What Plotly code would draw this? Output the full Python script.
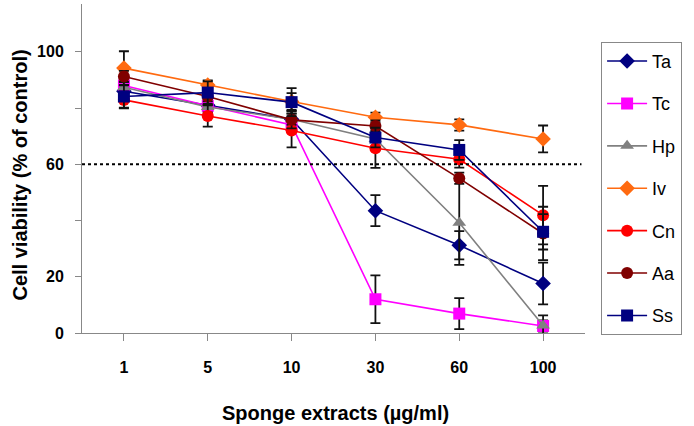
import plotly.graph_objects as go

categories = ['1', '5', '10', '30', '60', '100']

series_names = ['Ta', 'Tc', 'Hp', 'Iv', 'Cn', 'Aa', 'Ss']
Ta = [86.0, 81.0, 76.0, 43.5, 31.2, 17.6]
Tc = [88.0, 80.8, 74.0, 12.0, 6.9, 2.5]
Hp = [87.4, 80.4, 76.0, 69.0, 39.2, 2.7]
Iv = [94.2, 88.2, 82.3, 76.7, 74.0, 69.0]
Cn = [82.9, 77.2, 72.0, 65.7, 61.8, 41.9]
Aa = [91.2, 84.1, 75.8, 73.6, 55.0, 35.4]
Ss = [84.1, 85.5, 82.1, 69.5, 65.1, 36.0]

Ta_err = [2, 2, 3, 5.5, 5, 7.4]
Tc_err = [2, 2, 2, 8.5, 5.5, 2]
Hp_err = [2, 2, 2, 3, 15, 3.6]
Iv_err = [6, 1.6, 3, 1.7, 2, 4.8]
Cn_err = [3, 3.8, 6, 7, 3, 10.4]
Aa_err = [2, 3, 3, 2, 2, 9.5]
Ss_err = [4, 4, 5, 3.5, 3.5, 6.3]

values = [Ta, Tc, Hp, Iv, Cn, Aa, Ss]
errors = [Ta_err, Tc_err, Hp_err, Iv_err, Cn_err, Aa_err, Ss_err]
colors = ['#000080', '#FF00FF', '#808080', '#FF6A10', '#FF0000', '#800000', '#000080']
symbols = ['diamond', 'square', 'triangle-up', 'diamond', 'circle', 'circle', 'square']

FONT = 'Liberation Sans, Arial, sans-serif'

fig = go.Figure()
for i, name in enumerate(series_names):
    fig.add_trace(go.Scatter(
        x=categories, y=values[i], name=name, mode='lines+markers',
        legendgroup=name,
        line=dict(color=colors[i], width=1.6),
        marker=dict(symbol=symbols[i], size=12, color=colors[i]),
        error_y=dict(type='data', array=errors[i], visible=True,
                     color='#111111', thickness=1.8, width=5),
    ))

fig.add_shape(type='line', xref='paper', yref='y', x0=0, x1=0.993, y0=60, y1=60,
              line=dict(color='black', width=2, dash='dot'))

fig.add_annotation(text='<b>Sponge extracts (µg/ml)</b>', xref='paper', yref='paper',
                   x=0.504, y=-0.243, xanchor='center', yanchor='middle',
                   showarrow=False, font=dict(size=20, family=FONT))
fig.add_annotation(text='<b>Cell viability (% of control)</b>', xref='paper', yref='paper',
                   x=-0.123, y=0.479, xanchor='center', yanchor='middle', textangle=-90,
                   showarrow=False, font=dict(size=20, family=FONT))

fig.update_layout(
    width=694, height=426,
    margin=dict(l=82, r=109, t=4, b=93),
    paper_bgcolor='white', plot_bgcolor='white',
    font=dict(family=FONT, color='black'),
    legend=dict(x=1.032, y=0.885, xanchor='left', yanchor='top',
                bordercolor='#888888', borderwidth=1, bgcolor='white',
                font=dict(size=18), tracegroupgap=16,
                itemwidth=40),
)
fig.update_xaxes(
    type='category', range=[-0.5, 5.5], automargin=False,
    showline=True, linecolor='#888888', linewidth=1,
    ticks='outside', ticklen=7, tickcolor='#888888',
    tickfont=dict(size=16, family=FONT),
    ticklabelstandoff=13,
    showgrid=False, zeroline=False,
    tickprefix='<b>', ticksuffix='</b>',
)
fig.update_yaxes(
    range=[0, 117], automargin=False,
    showline=True, linecolor='#888888', linewidth=1,
    ticks='outside', ticklen=6, tickcolor='#888888',
    tickvals=[0, 20, 40, 60, 80, 100],
    ticktext=['<b>0</b>', '<b>20</b>', '', '<b>60</b>', '', '<b>100</b>'],
    tickfont=dict(size=16),
    ticklabelstandoff=8,
    showgrid=False, zeroline=False,
)

fig.write_html('out.html', config={'displayModeBar': False},
               post_script="document.body.style.margin='0';")
